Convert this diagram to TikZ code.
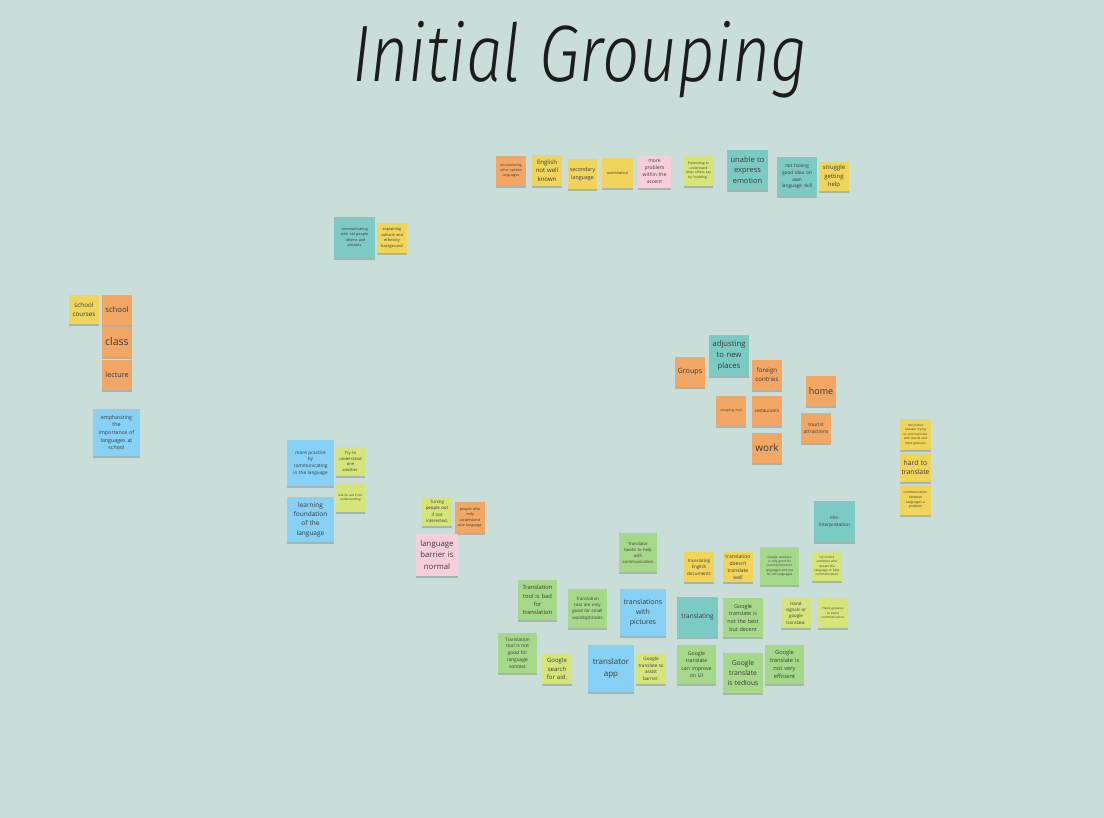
\documentclass[tikz,border=0pt]{standalone}
\usepackage{fontspec}
\setmainfont{Open Sans}
\newfontfamily\titlefont{Fira Sans Light}[ItalicFont={Fira Sans Light Italic}]
\usetikzlibrary{shadows}

\definecolor{board}{HTML}{C9DED9}
\definecolor{ink}{HTML}{3A3A3A}
\definecolor{titleink}{HTML}{1C1C1C}
\definecolor{cOrange}{HTML}{F3A765}
\definecolor{cYellow}{HTML}{F1D45A}
\definecolor{cPink}{HTML}{F8CEDA}
\definecolor{cLime}{HTML}{D6E57A}
\definecolor{cGreen}{HTML}{A6D88A}
\definecolor{cTeal}{HTML}{7CCAC4}
\definecolor{cBlue}{HTML}{86D1F5}

\tikzset{
  note/.style={draw=none, inner sep=0pt, align=center, text=ink,
    drop shadow={shadow xshift=0.3pt, shadow yshift=-2pt, opacity=0.18, fill=black}},
  fs/.code={\pgfmathsetmacro\nLead{#1*1.42}%
    \pgfkeysalso{font/.expanded={\noexpand\fontsize{#1}{\nLead}\noexpand\selectfont}}},
  or/.style={fill=cOrange},
  ye/.style={fill=cYellow},
  pk/.style={fill=cPink},
  li/.style={fill=cLime},
  gr/.style={fill=cGreen},
  te/.style={fill=cTeal},
  bl/.style={fill=cBlue},
}

% sticky note: name, left, top, right, bottom, style, text
\newcommand\sticky[7]{%
  \pgfmathsetmacro\nX{(#2+#4)/2}%
  \pgfmathsetmacro\nY{(#3+#5)/2}%
  \pgfmathsetmacro\nW{#4-#2}%
  \pgfmathsetmacro\nH{#5-#3}%
  \pgfmathsetmacro\nT{#4-#2-3}%
  \node[note,minimum width=\nW pt,minimum height=\nH pt,text width=\nT pt,#6] (#1) at (\nX,\nY) {#7};}

\begin{document}
\begin{tikzpicture}[x=1pt,y=-1pt]
\useasboundingbox (0,0) rectangle (1104,818);
\fill[board] (0,0) rectangle (1104,818);

\node[font=\titlefont\itshape\fontsize{80}{90}\selectfont, anchor=base, text=titleink, inner sep=0pt]
  (title) at (580,82) {\scalebox{0.82}[1]{Initial Grouping}};

% top row
\sticky{encounter}{496}{156}{526}{186}{or,fs=3.5}{encountering\\other spoken\\languages}
\sticky{english}{532}{155}{562}{186}{ye,fs=6}{English\\not well\\known}
\sticky{secondary}{568}{159}{597}{189}{ye,fs=5.3}{secondary\\language}
\sticky{assim}{602}{158}{633}{188}{ye,fs=3.8}{assimilation}
\sticky{accent}{638}{156}{671}{188}{pk,fs=5}{more\\problem\\within the\\accent}
\sticky{pretend}{684}{155}{713}{186}{li,fs=3.3}{Pretending to\\understand\\what others say\\by "nodding".}
\sticky{emotion}{727}{150}{768}{190}{te,fs=7.5}{unable to\\express\\emotion}
\sticky{ownskill}{777}{157}{817}{196}{te,fs=4.8}{not having\\good idea on\\own\\language skill}
\sticky{struggle}{819}{162}{849}{191}{ye,fs=5.9}{struggle\\getting\\help}

\sticky{oldpeople}{334}{217}{375}{258}{te,fs=3.7}{communicating\\with old people\\- idioms and\\phrases}
\sticky{cultural}{377}{223}{407}{253}{ye,fs=3.9}{explaining\\cultural and\\ethnicity\\background}

% school group
\sticky{courses}{69}{295}{99}{324}{ye,fs=6.3}{school\\courses}
\sticky{school}{102}{295}{132}{325}{or,fs=7.7}{school}
\sticky{class}{102}{327}{132}{357}{or,fs=10.5}{class}
\sticky{lecture}{102}{360}{132}{390}{or,fs=7.2}{lecture}
\sticky{emphasize}{93}{409}{140}{456}{bl,fs=5.3}{emphasizing\\the\\importance of\\languages at\\school}

% places group
\sticky{groups}{675}{357}{705}{387}{or,fs=7.2}{Groups}
\sticky{adjusting}{709}{335}{749}{376}{te,fs=7.7}{adjusting\\to new\\places}
\sticky{foreign}{752}{360}{782}{390}{or,fs=6.2}{foreign\\contries}
\sticky{home}{806}{376}{836}{406}{or,fs=9}{home}
\sticky{mall}{716}{396}{746}{426}{or,fs=3.2}{shopping mall}
\sticky{restaurants}{752}{396}{782}{426}{or,fs=4.6}{restaurants}
\sticky{work}{752}{433}{782}{463}{or,fs=10}{work}
\sticky{tourist}{801}{413}{831}{443}{or,fs=5}{tourist\\attractions}

% right column
\sticky{gestures}{900}{419}{931}{450}{ye,fs=3.1}{non-native\\speaker trying\\to communicate\\with words and\\hand gestures}
\sticky{hardtrans}{900}{453}{931}{482}{ye,fs=6.8}{hard to\\translate}
\sticky{between}{900}{485}{931}{515}{ye,fs=3.3}{communication\\between\\languages a\\problem}

% learning group
\sticky{practice}{287}{440}{334}{486}{bl,fs=4.7}{more practice\\by\\communicating\\in the language}
\sticky{tryunder}{336}{447}{365}{476}{li,fs=4.1}{Try to\\understand\\one\\another.}
\sticky{askaid}{336}{483}{365}{512}{li,fs=3}{Ask for aid if not\\understanding}
\sticky{foundation}{287}{497}{334}{542}{bl,fs=6.5}{learning\\foundation\\of the\\language}

\sticky{tuning}{422}{497}{452}{526}{li,fs=4.4}{Tuning\\people out\\if not\\interested.}
\sticky{onelang}{455}{502}{485}{533}{or,fs=3.7}{people who\\only\\understand\\one language}
\sticky{barrier}{416}{534}{458}{576}{pk,fs=7.8}{language\\barrier is\\normal}

% translation group
\sticky{books}{619}{533}{657}{572}{gr,fs=4.2}{Translator\\books to help\\with\\communication}
\sticky{documents}{684}{552}{714}{582}{ye,fs=4.5}{translating\\English\\documents}
\sticky{doesnt}{723}{552}{753}{582}{ye,fs=5}{translation\\doesn't\\translate\\well}
\sticky{oldlang}{760}{547}{799}{585}{gr,fs=3.1}{Google translate\\is only good for\\common/modern\\languages and not\\for old languages}
\sticky{misinterp}{814}{501}{855}{542}{te,fs=4.8}{mis-\\interpretation}
\sticky{findsomeone}{812}{551}{842}{581}{li,fs=3.1}{try to find\\someone who\\speaks the\\language to help\\communication}

\sticky{toolbad}{518}{580}{557}{620}{gr,fs=5.8}{Translation\\tool is bad\\for\\translation}
\sticky{toolsmall}{568}{589}{607}{628}{gr,fs=4.4}{Translation\\tool are only\\good for small\\words/phrases}
\sticky{pictures}{620}{589}{666}{636}{bl,fs=7}{translations\\with\\pictures}
\sticky{context}{498}{633}{537}{673}{gr,fs=4.8}{Translation\\tool is not\\good for\\language\\context}
\sticky{search}{542}{654}{572}{684}{li,fs=6}{Google\\search\\for aid.}
\sticky{app}{588}{645}{634}{692}{bl,fs=8}{translator\\app}
\sticky{assist}{636}{654}{666}{684}{li,fs=4.6}{Google\\translate to\\assist\\barrier.}

\sticky{translating}{677}{597}{718}{637}{te,fs=6.5}{translating}
\sticky{decent}{723}{598}{763}{637}{gr,fs=5.4}{Google\\translate is\\not the best\\but decent}
\sticky{signals}{781}{598}{811}{628}{li,fs=4.4}{Hand\\signals or\\google\\translate.}
\sticky{handgest}{818}{598}{848}{628}{li,fs=3.1}{Hand gestures\\to assist\\communication}
\sticky{improveui}{677}{645}{716}{684}{gr,fs=5.2}{Google\\translate\\can improve\\on UI}
\sticky{tedious}{723}{653}{763}{693}{gr,fs=6.8}{Google\\translate\\is tedious}
\sticky{efficient}{765}{645}{804}{684}{gr,fs=5.7}{Google\\translate is\\not very\\efficient}
\end{tikzpicture}
\end{document}
